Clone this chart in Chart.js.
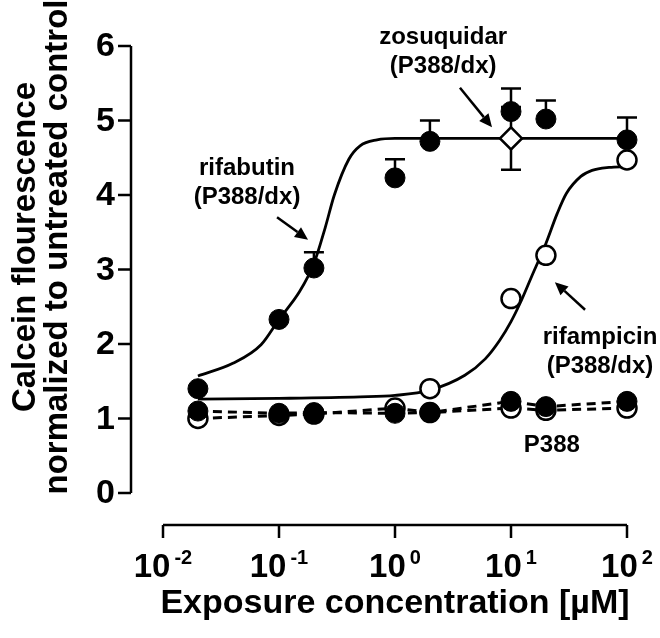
<!DOCTYPE html>
<html>
<head>
<meta charset="utf-8">
<script src="https://cdn.jsdelivr.net/npm/chart.js@4.4.1/dist/chart.umd.min.js"></script>
<style>
  html, body { margin: 0; padding: 0; background: #ffffff; }
  #wrap { width: 660px; height: 638px; }
</style>
</head>
<body>
<div id="wrap"><canvas id="calcein-chart" width="660" height="638"></canvas></div>
<script>
/* ----------------------------
   1. DATA
   ---------------------------- */
var conc = [0.02, 0.1, 0.2, 1, 2, 10, 20, 100];

// P388/dx cells, rifabutin (filled circles) + upper SD
var rifabutinDx    = [1.40, 2.33, 3.02, 4.23, 4.72, 5.12, 5.02, 4.74];
var rifabutinDxErr = [0, 0, 0.21, 0.25, 0.28, 0.31, 0.25, 0.30];

// P388/dx cells, rifampicin (open circles)
var rifampicinDxConc = [2, 10, 20, 100];
var rifampicinDx     = [1.40, 2.61, 3.19, 4.47];

// parental P388 cells (dashed lines)
var p388Rifabutin  = [1.10, 1.07, 1.08, 1.07, 1.08, 1.23, 1.16, 1.23];
var p388Rifampicin = [1.00, 1.04, 1.06, 1.14, 1.08, 1.14, 1.11, 1.14];

// zosuquidar reference (open diamond)
var zosuquidarConc = [10];
var zosuquidarDx   = [4.76];
var zosuquidarErr  = [0.42];

// fitted sigmoid curves
var rifabutinFitConc = [0.02, 0.04, 0.07, 0.1, 0.15, 0.2, 0.25, 0.3, 0.4, 0.5, 0.7, 1, 100];
var rifabutinFit     = [1.57, 1.74, 1.99, 2.33, 2.70, 3.08, 3.56, 4.00, 4.48, 4.66, 4.74, 4.76, 4.76];

var rifampicinFitConc = [0.02, 0.1, 0.5, 1, 2, 4, 6, 8, 10, 12, 15, 20, 25, 30, 40, 50, 70, 100];
var rifampicinFit     = [1.26, 1.27, 1.29, 1.31, 1.38, 1.58, 1.80, 2.05, 2.30, 2.55, 2.90, 3.35, 3.75, 4.02, 4.25, 4.33, 4.37, 4.38];

// axes
var yTicks = [0, 1, 2, 3, 4, 5, 6];
var xTickExponents = [-2, -1, 0, 1, 2];

/* ----------------------------
   2. STYLE HELPERS
   ---------------------------- */
var FONT = '"Liberation Sans", Arial, Helvetica, sans-serif';
var INK = "#000000";

function toPoints(xs, ys) {
  return xs.map(function (x, i) { return { x: x, y: ys[i] }; });
}

// text labels and arrows, anchored in data units
var labels = [
  { lines: ["rifabutin", "(P388/dx)"], x: 0.053, y: 4.36 },
  { lines: ["zosuquidar", "(P388/dx)"], x: 2.6, y: 6.11 },
  { lines: ["rifampicin", "(P388/dx)"], x: 58.5, y: 2.09 },
  { lines: ["P388"], x: 22.5, y: 0.64 }
];
var arrows = [
  { x0: 0.0962, y0: 3.70, x1: 0.178, y1: 3.40 },
  { x0: 3.63, y0: 5.44, x1: 6.86, y1: 4.91 },
  { x0: 43.5, y0: 2.46, x1: 23.9, y1: 2.83 }
];
var errorBars = [
  { xs: conc, ys: rifabutinDx, errs: rifabutinDxErr, both: false },
  { xs: zosuquidarConc, ys: zosuquidarDx, errs: zosuquidarErr, both: true }
];

/* ----------------------------
   3. PLUGINS
   ---------------------------- */
var errorBarPlugin = {
  id: "errorBars",
  beforeDatasetsDraw: function (chart) {
    var ctx = chart.ctx;
    var xs = chart.scales.x, ys = chart.scales.y;
    ctx.save();
    ctx.strokeStyle = INK;
    ctx.lineWidth = 2.5;
    errorBars.forEach(function (set) {
      set.xs.forEach(function (x, i) {
        var e = set.errs[i];
        if (!e) { return; }
        var px = xs.getPixelForValue(x);
        var pTop = ys.getPixelForValue(set.ys[i] + e);
        var pBot = set.both ? ys.getPixelForValue(set.ys[i] - e) : ys.getPixelForValue(set.ys[i]);
        ctx.beginPath();
        ctx.moveTo(px, pBot); ctx.lineTo(px, pTop);
        ctx.moveTo(px - 10, pTop); ctx.lineTo(px + 10, pTop);
        if (set.both) { ctx.moveTo(px - 10, pBot); ctx.lineTo(px + 10, pBot); }
        ctx.stroke();
      });
    });
    ctx.restore();
  }
};

var axesPlugin = {
  id: "prismAxes",
  afterDraw: function (chart) {
    var ctx = chart.ctx;
    var xs = chart.scales.x, ys = chart.scales.y;
    var area = chart.chartArea;
    var axisX = area.left - 32;     // y axis sits left of the data
    var axisY = area.bottom + 32;   // x axis sits below the data

    ctx.save();
    ctx.strokeStyle = INK;
    ctx.fillStyle = INK;
    ctx.lineWidth = 2.5;

    // y axis
    ctx.beginPath();
    ctx.moveTo(axisX, ys.getPixelForValue(yTicks[yTicks.length - 1]));
    ctx.lineTo(axisX, ys.getPixelForValue(yTicks[0]));
    yTicks.forEach(function (v) {
      var py = ys.getPixelForValue(v);
      ctx.moveTo(axisX - 13, py); ctx.lineTo(axisX, py);
    });
    ctx.stroke();
    ctx.font = "bold 34px " + FONT;
    ctx.textAlign = "right";
    ctx.textBaseline = "middle";
    yTicks.forEach(function (v) {
      ctx.fillText(String(v), axisX - 16, ys.getPixelForValue(v) + 1);
    });

    // x axis
    ctx.beginPath();
    ctx.moveTo(xs.getPixelForValue(Math.pow(10, xTickExponents[0])), axisY);
    ctx.lineTo(xs.getPixelForValue(Math.pow(10, xTickExponents[xTickExponents.length - 1])), axisY);
    xTickExponents.forEach(function (p) {
      var px = xs.getPixelForValue(Math.pow(10, p));
      ctx.moveTo(px, axisY); ctx.lineTo(px, axisY + 13);
    });
    ctx.stroke();
    ctx.textBaseline = "alphabetic";
    ctx.textAlign = "left";
    xTickExponents.forEach(function (p) {
      var px = xs.getPixelForValue(Math.pow(10, p));
      ctx.font = "bold 33px " + FONT;
      var wBase = ctx.measureText("10").width;
      ctx.font = "bold 20px " + FONT;
      var wSup = ctx.measureText(String(p)).width;
      var left = px - (wBase + 4 + wSup) / 2;
      ctx.font = "bold 33px " + FONT;
      ctx.fillText("10", left, axisY + 52);
      ctx.font = "bold 20px " + FONT;
      ctx.fillText(String(p), left + wBase + 4, axisY + 39);
    });

    // axis titles
    ctx.font = "bold 34px " + FONT;
    ctx.textAlign = "center";
    ctx.textBaseline = "alphabetic";
    ctx.fillText("Exposure concentration [\u00b5M]", (area.left + area.right) / 2, 613);

    ctx.save();
    ctx.translate(0, 247);
    ctx.rotate(-Math.PI / 2);
    ctx.font = "bold 33px " + FONT;
    ctx.fillText("Calcein flourescence", 0, 35);
    ctx.fillText("normalized to untreated control", 0, 67);
    ctx.restore();

    // annotations
    ctx.font = "bold 24px " + FONT;
    ctx.textAlign = "center";
    ctx.textBaseline = "middle";
    labels.forEach(function (lab) {
      var px = xs.getPixelForValue(lab.x);
      var py = ys.getPixelForValue(lab.y);
      lab.lines.forEach(function (t, i) {
        ctx.fillText(t, px, py + i * 29);
      });
    });

    arrows.forEach(function (a) {
      var x0 = xs.getPixelForValue(a.x0), y0 = ys.getPixelForValue(a.y0);
      var x1 = xs.getPixelForValue(a.x1), y1 = ys.getPixelForValue(a.y1);
      var ang = Math.atan2(y1 - y0, x1 - x0);
      var head = 13, half = 6;
      var bx = x1 - head * Math.cos(ang), by = y1 - head * Math.sin(ang);
      ctx.lineWidth = 2.5;
      ctx.beginPath();
      ctx.moveTo(x0, y0); ctx.lineTo(bx, by);
      ctx.stroke();
      ctx.beginPath();
      ctx.moveTo(x1, y1);
      ctx.lineTo(bx + half * Math.sin(ang), by - half * Math.cos(ang));
      ctx.lineTo(bx - half * Math.sin(ang), by + half * Math.cos(ang));
      ctx.closePath();
      ctx.fill();
    });

    ctx.restore();
  }
};

/* ----------------------------
   4. CHART
   ---------------------------- */
var canvas = document.getElementById("calcein-chart");
var ctx = canvas.getContext("2d");

var calceinChart = new Chart(ctx, {
  type: "scatter",
  data: {
    datasets: [
      {
        label: "rifabutin fit",
        data: toPoints(rifabutinFitConc, rifabutinFit),
        showLine: true,
        cubicInterpolationMode: "monotone",
        borderColor: INK,
        borderWidth: 2.8,
        pointRadius: 0,
        clip: false,
        order: 6
      },
      {
        label: "rifampicin fit",
        data: toPoints(rifampicinFitConc, rifampicinFit),
        showLine: true,
        cubicInterpolationMode: "monotone",
        borderColor: INK,
        borderWidth: 2.8,
        pointRadius: 0,
        clip: false,
        order: 6
      },
      {
        label: "P388 rifampicin",
        data: toPoints(conc, p388Rifampicin),
        showLine: true,
        borderColor: INK,
        borderWidth: 3,
        borderDash: [9, 6],
        pointRadius: 9.5,
        pointBorderWidth: 2.5,
        pointBackgroundColor: "#ffffff",
        pointBorderColor: INK,
        clip: false,
        order: 5
      },
      {
        label: "P388 rifabutin",
        data: toPoints(conc, p388Rifabutin),
        showLine: true,
        borderColor: INK,
        borderWidth: 3,
        borderDash: [9, 6],
        pointRadius: 10,
        pointBorderWidth: 1,
        pointBackgroundColor: INK,
        pointBorderColor: INK,
        clip: false,
        order: 4
      },
      {
        label: "rifampicin (P388/dx)",
        data: toPoints(rifampicinDxConc, rifampicinDx),
        showLine: false,
        pointRadius: 9.5,
        pointBorderWidth: 2.5,
        pointBackgroundColor: "#ffffff",
        pointBorderColor: INK,
        clip: false,
        order: 3
      },
      {
        label: "rifabutin (P388/dx)",
        data: toPoints(conc, rifabutinDx),
        showLine: false,
        pointRadius: 10,
        pointBorderWidth: 1,
        pointBackgroundColor: INK,
        pointBorderColor: INK,
        clip: false,
        order: 2
      },
      {
        label: "zosuquidar (P388/dx)",
        data: toPoints(zosuquidarConc, zosuquidarDx),
        showLine: false,
        pointStyle: "rectRot",
        pointRadius: 11,
        pointBorderWidth: 2.5,
        pointBackgroundColor: "#ffffff",
        pointBorderColor: INK,
        clip: false,
        order: 1
      }
    ]
  },
  options: {
    responsive: false,
    animation: false,
    events: [],
    layout: { padding: { left: 163, right: 33, top: 46, bottom: 145 } },
    plugins: {
      legend: { display: false },
      tooltip: { enabled: false }
    },
    scales: {
      x: { type: "logarithmic", min: 0.01, max: 100, display: false },
      y: { type: "linear", min: 0, max: 6, display: false }
    }
  },
  plugins: [errorBarPlugin, axesPlugin]
});
</script>
</body>
</html>
